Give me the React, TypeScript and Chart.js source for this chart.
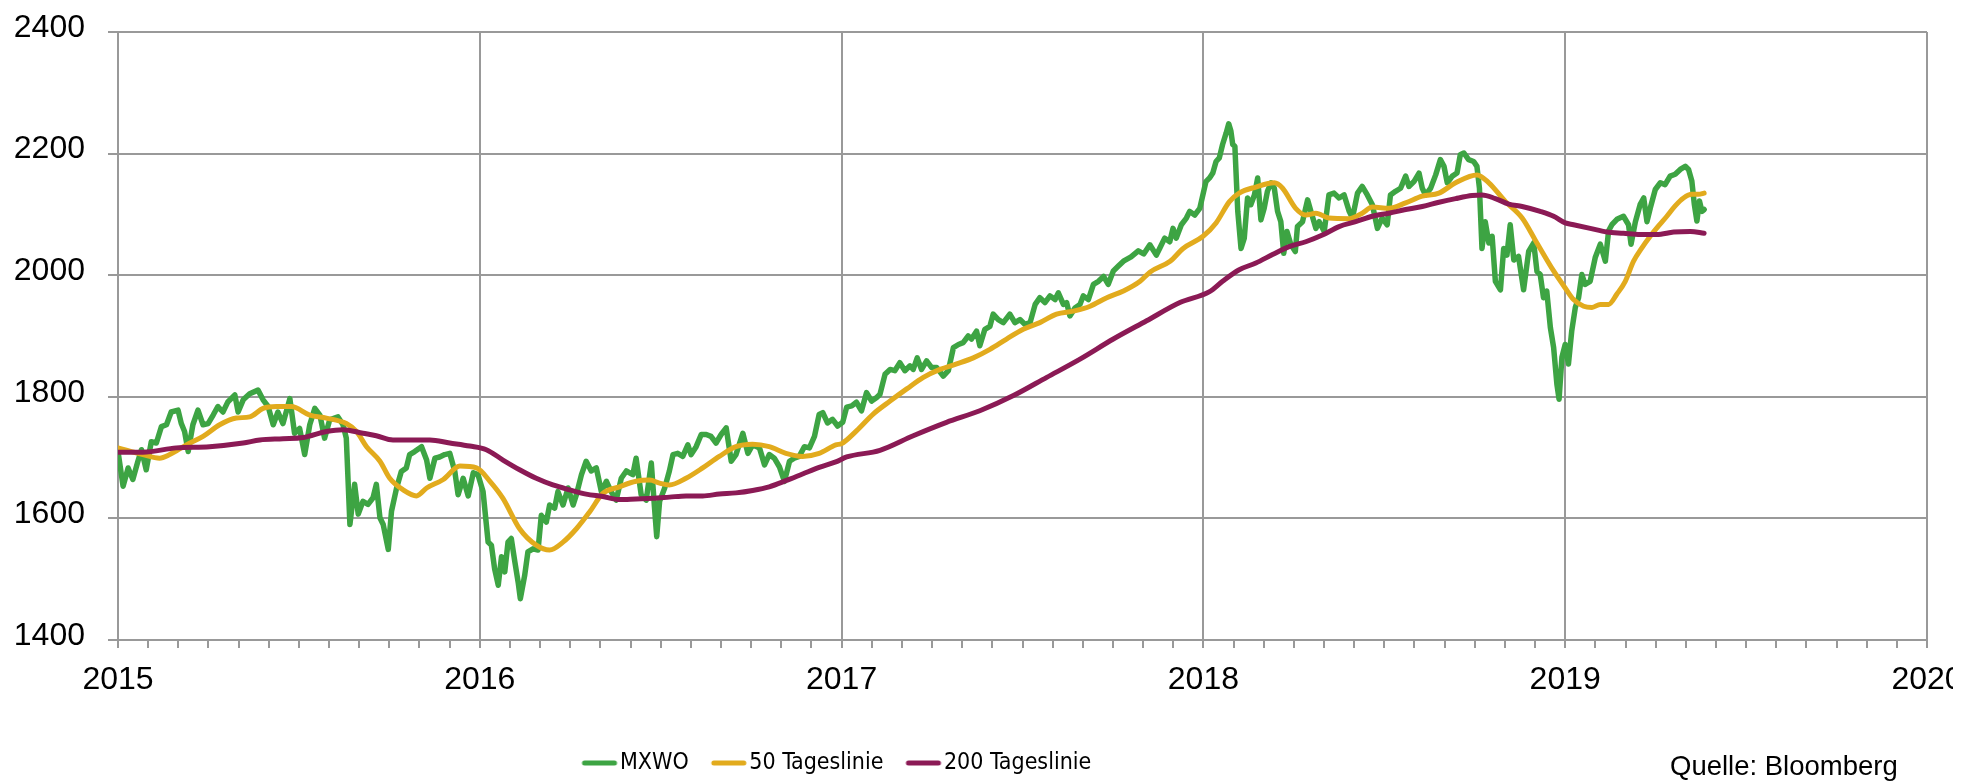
import React, { useEffect, useRef } from 'react';
import { Chart, registerables } from 'chart.js';

Chart.register(...registerables);

// ---- Data (decimal years / index values) ----
const mxwoDates = [
  2015.000, 2015.014, 2015.028, 2015.041, 2015.055, 2015.065, 2015.078, 2015.092, 2015.106, 2015.120,
  2015.134, 2015.147, 2015.166, 2015.175, 2015.184, 2015.194, 2015.207, 2015.221, 2015.235, 2015.249,
  2015.263, 2015.276, 2015.290, 2015.304, 2015.323, 2015.332, 2015.346, 2015.364, 2015.387, 2015.401,
  2015.415, 2015.429, 2015.442, 2015.456, 2015.475, 2015.488, 2015.502, 2015.516, 2015.530, 2015.544,
  2015.558, 2015.571, 2015.585, 2015.608, 2015.622, 2015.631, 2015.641, 2015.654, 2015.664, 2015.677,
  2015.691, 2015.705, 2015.714, 2015.724, 2015.733, 2015.747, 2015.756, 2015.770, 2015.783, 2015.797,
  2015.806, 2015.820, 2015.839, 2015.853, 2015.862, 2015.876, 2015.889, 2015.903, 2015.917, 2015.931,
  2015.940, 2015.954, 2015.968, 2015.982, 2015.995, 2016.009, 2016.023, 2016.032, 2016.041, 2016.051,
  2016.060, 2016.069, 2016.078, 2016.087, 2016.097, 2016.106, 2016.112, 2016.124, 2016.133, 2016.147,
  2016.161, 2016.170, 2016.184, 2016.193, 2016.207, 2016.216, 2016.230, 2016.244, 2016.258, 2016.267,
  2016.281, 2016.294, 2016.308, 2016.322, 2016.336, 2016.350, 2016.363, 2016.377, 2016.391, 2016.405,
  2016.423, 2016.432, 2016.446, 2016.460, 2016.474, 2016.483, 2016.489, 2016.497, 2016.511, 2016.524,
  2016.534, 2016.547, 2016.561, 2016.575, 2016.584, 2016.598, 2016.612, 2016.626, 2016.639, 2016.653,
  2016.667, 2016.681, 2016.695, 2016.708, 2016.727, 2016.741, 2016.754, 2016.773, 2016.787, 2016.800,
  2016.814, 2016.828, 2016.842, 2016.856, 2016.869, 2016.883, 2016.897, 2016.911, 2016.925, 2016.938,
  2016.948, 2016.961, 2016.975, 2016.989, 2017.003, 2017.014, 2017.028, 2017.041, 2017.055, 2017.069,
  2017.083, 2017.097, 2017.106, 2017.120, 2017.134, 2017.147, 2017.161, 2017.175, 2017.189, 2017.198,
  2017.209, 2017.221, 2017.235, 2017.249, 2017.263, 2017.281, 2017.295, 2017.309, 2017.323, 2017.336,
  2017.350, 2017.359, 2017.373, 2017.382, 2017.396, 2017.410, 2017.419, 2017.433, 2017.447, 2017.465,
  2017.479, 2017.493, 2017.507, 2017.521, 2017.535, 2017.548, 2017.562, 2017.576, 2017.590, 2017.599,
  2017.613, 2017.622, 2017.631, 2017.645, 2017.659, 2017.668, 2017.682, 2017.696, 2017.710, 2017.724,
  2017.737, 2017.751, 2017.765, 2017.779, 2017.800, 2017.820, 2017.835, 2017.852, 2017.870, 2017.879,
  2017.893, 2017.907, 2017.916, 2017.925, 2017.939, 2017.953, 2017.962, 2017.976, 2017.990, 2018.007,
  2018.017, 2018.026, 2018.035, 2018.044, 2018.053, 2018.063, 2018.070, 2018.076, 2018.081, 2018.087,
  2018.095, 2018.104, 2018.113, 2018.122, 2018.131, 2018.141, 2018.150, 2018.159, 2018.168, 2018.177,
  2018.187, 2018.196, 2018.205, 2018.214, 2018.222, 2018.231, 2018.242, 2018.254, 2018.260, 2018.274,
  2018.288, 2018.297, 2018.311, 2018.320, 2018.334, 2018.347, 2018.361, 2018.375, 2018.389, 2018.403,
  2018.412, 2018.426, 2018.439, 2018.453, 2018.467, 2018.481, 2018.494, 2018.508, 2018.517, 2018.531,
  2018.545, 2018.559, 2018.568, 2018.582, 2018.596, 2018.605, 2018.614, 2018.628, 2018.642, 2018.655,
  2018.665, 2018.674, 2018.688, 2018.701, 2018.710, 2018.720, 2018.733, 2018.747, 2018.756, 2018.763,
  2018.770, 2018.779, 2018.789, 2018.798, 2018.807, 2018.821, 2018.830, 2018.839, 2018.848, 2018.858,
  2018.871, 2018.885, 2018.899, 2018.913, 2018.922, 2018.931, 2018.940, 2018.949, 2018.959, 2018.968,
  2018.977, 2018.983, 2018.991, 2019.000, 2019.009, 2019.018, 2019.028, 2019.037, 2019.046, 2019.055,
  2019.069, 2019.083, 2019.097, 2019.111, 2019.120, 2019.129, 2019.143, 2019.161, 2019.175, 2019.182,
  2019.194, 2019.207, 2019.217, 2019.226, 2019.235, 2019.249, 2019.263, 2019.276, 2019.290, 2019.304,
  2019.318, 2019.332, 2019.341, 2019.350, 2019.357, 2019.364, 2019.371, 2019.378, 2019.384,
];
const mxwoValues = [
  1710, 1653, 1683, 1664, 1694, 1713, 1680, 1726, 1724, 1751,
  1754, 1775, 1778, 1756, 1743, 1710, 1754, 1778, 1754, 1756,
  1770, 1784, 1775, 1792, 1803, 1775, 1795, 1805, 1811, 1795,
  1784, 1754, 1775, 1756, 1797, 1740, 1748, 1705, 1754, 1781,
  1770, 1732, 1762, 1767, 1754, 1732, 1590, 1656, 1607, 1628,
  1623, 1634, 1656, 1601, 1590, 1549, 1612, 1650, 1677, 1683,
  1705, 1710, 1718, 1696, 1666, 1699, 1701, 1705, 1707, 1677,
  1639, 1666, 1637, 1675, 1672, 1644, 1561, 1556, 1517, 1490,
  1537, 1512, 1561, 1567, 1528, 1495, 1468, 1506, 1545, 1550,
  1548, 1605, 1594, 1622, 1617, 1644, 1622, 1650, 1622, 1639,
  1672, 1694, 1678, 1683, 1644, 1661, 1644, 1630, 1666, 1678,
  1672, 1699, 1639, 1630, 1691, 1617, 1570, 1628, 1650, 1678,
  1705, 1707, 1702, 1721, 1705, 1718, 1738, 1738, 1735, 1724,
  1738, 1749, 1694, 1705, 1740, 1707, 1721, 1716, 1688, 1705,
  1699, 1685, 1661, 1694, 1699, 1702, 1718, 1716, 1735, 1771,
  1774, 1757, 1763, 1752, 1758, 1783, 1785, 1791, 1777, 1807,
  1793, 1799, 1804, 1837, 1845, 1843, 1856, 1843, 1851, 1845,
  1864, 1845, 1859, 1848, 1848, 1834, 1843, 1881, 1886, 1889,
  1900, 1895, 1908, 1884, 1911, 1916, 1936, 1927, 1922, 1936,
  1922, 1927, 1919, 1922, 1952, 1963, 1955, 1966, 1960, 1971,
  1952, 1955, 1933, 1946, 1952, 1966, 1960, 1985, 1990, 1998,
  1985, 2007, 2015, 2023, 2030, 2040, 2035, 2050, 2033, 2044,
  2061, 2055, 2077, 2061, 2083, 2094, 2105, 2099, 2110, 2154,
  2160, 2168, 2187, 2193, 2215, 2234, 2249, 2237, 2215, 2212,
  2105, 2044, 2061, 2127, 2116, 2132, 2160, 2091, 2110, 2138,
  2152, 2143, 2105, 2088, 2036, 2072, 2050, 2039, 2080, 2088,
  2124, 2105, 2077, 2088, 2072, 2132, 2135, 2127, 2132, 2105,
  2094, 2135, 2146, 2132, 2116, 2077, 2094, 2083, 2132, 2138,
  2143, 2163, 2146, 2154, 2168, 2143, 2132, 2143, 2165, 2190,
  2179, 2152, 2163, 2168, 2198, 2201, 2190, 2187, 2179, 2143,
  2044, 2088, 2053, 2064, 1990, 1976, 2044, 2033, 2083, 2025,
  2031, 1976, 2039, 2053, 2006, 2001, 1963, 1974, 1914, 1881,
  1821, 1796, 1865, 1886, 1854, 1908, 1947, 1963, 2001, 1985,
  1990, 2029, 2051, 2023, 2073, 2083, 2092, 2097, 2083, 2051,
  2088, 2116, 2127, 2088, 2110, 2141, 2152, 2149, 2163, 2166,
  2174, 2179, 2174, 2155, 2116, 2089, 2122, 2105, 2108,
];

const ma50Dates = [
  2015.000, 2015.069, 2015.115, 2015.143, 2015.189, 2015.235, 2015.281, 2015.327, 2015.364, 2015.401,
  2015.438, 2015.479, 2015.530, 2015.576, 2015.631, 2015.659, 2015.687, 2015.724, 2015.751, 2015.788,
  2015.825, 2015.853, 2015.899, 2015.945, 2015.991, 2016.028, 2016.064, 2016.110, 2016.156, 2016.193,
  2016.230, 2016.267, 2016.304, 2016.340, 2016.386, 2016.432, 2016.469, 2016.497, 2016.524, 2016.570,
  2016.616, 2016.662, 2016.708, 2016.754, 2016.800, 2016.846, 2016.892, 2016.938, 2016.984, 2017.000,
  2017.041, 2017.088, 2017.134, 2017.180, 2017.226, 2017.272, 2017.318, 2017.364, 2017.410, 2017.456,
  2017.502, 2017.548, 2017.594, 2017.641, 2017.687, 2017.733, 2017.779, 2017.825, 2017.852, 2017.908,
  2017.944, 2017.999, 2018.035, 2018.072, 2018.099, 2018.145, 2018.196, 2018.219, 2018.255, 2018.283,
  2018.311, 2018.347, 2018.403, 2018.439, 2018.467, 2018.513, 2018.559, 2018.605, 2018.651, 2018.697,
  2018.756, 2018.789, 2018.835, 2018.881, 2018.917, 2018.968, 2019.000, 2019.023, 2019.051, 2019.074,
  2019.097, 2019.120, 2019.143, 2019.166, 2019.189, 2019.212, 2019.235, 2019.258, 2019.281, 2019.304,
  2019.327, 2019.350, 2019.369, 2019.384,
];
const ma50Values = [
  1716, 1705, 1699, 1705, 1721, 1735, 1754, 1765, 1767, 1781,
  1784, 1784, 1770, 1765, 1756, 1743, 1718, 1694, 1666, 1647,
  1637, 1650, 1664, 1686, 1683, 1661, 1633, 1583, 1556, 1548,
  1561, 1583, 1611, 1641, 1652, 1661, 1663, 1658, 1655, 1666,
  1683, 1702, 1718, 1722, 1718, 1707, 1702, 1707, 1721, 1723,
  1744, 1772, 1793, 1813, 1832, 1845, 1854, 1864, 1878, 1895,
  1911, 1922, 1936, 1941, 1949, 1963, 1974, 1990, 2005, 2023,
  2044, 2064, 2086, 2121, 2135, 2145, 2152, 2143, 2110, 2099,
  2102, 2094, 2093, 2102, 2112, 2110, 2119, 2130, 2135, 2152,
  2165, 2152, 2121, 2094, 2058, 2007, 1979, 1960, 1949, 1947,
  1952, 1952, 1969, 1990, 2023, 2045, 2064, 2081, 2097, 2114,
  2127, 2133, 2133, 2135,
];

const ma200Dates = [
  2015.000, 2015.069, 2015.161, 2015.253, 2015.346, 2015.392, 2015.456, 2015.512, 2015.576, 2015.622,
  2015.677, 2015.714, 2015.760, 2015.806, 2015.862, 2015.917, 2015.972, 2016.018, 2016.064, 2016.110,
  2016.156, 2016.202, 2016.248, 2016.294, 2016.340, 2016.386, 2016.432, 2016.478, 2016.524, 2016.570,
  2016.616, 2016.662, 2016.708, 2016.754, 2016.800, 2016.846, 2016.892, 2016.938, 2016.984, 2017.014,
  2017.106, 2017.198, 2017.290, 2017.382, 2017.475, 2017.567, 2017.659, 2017.751, 2017.843, 2017.935,
  2018.017, 2018.053, 2018.099, 2018.145, 2018.191, 2018.237, 2018.283, 2018.329, 2018.375, 2018.421,
  2018.467, 2018.513, 2018.559, 2018.605, 2018.651, 2018.697, 2018.743, 2018.770, 2018.807, 2018.844,
  2018.881, 2018.931, 2018.968, 2019.000, 2019.023, 2019.069, 2019.115, 2019.161, 2019.207, 2019.253,
  2019.300, 2019.346, 2019.384,
];
const ma200Values = [
  1709, 1709, 1716, 1718, 1724, 1729, 1731, 1733, 1743, 1746,
  1740, 1736, 1729, 1729, 1729, 1724, 1719, 1713, 1696, 1680,
  1666, 1655, 1647, 1640, 1636, 1631, 1632, 1633, 1635, 1637,
  1637, 1640, 1642, 1646, 1652, 1662, 1673, 1684, 1693, 1701,
  1712, 1736, 1758, 1777, 1802, 1832, 1862, 1895, 1925, 1955,
  1973, 1990, 2009, 2020, 2034, 2047, 2055, 2066, 2080, 2088,
  2097, 2102, 2108, 2113, 2120, 2126, 2131, 2132, 2126, 2117,
  2113, 2105, 2097, 2086, 2083, 2077, 2071, 2069, 2067, 2067,
  2071, 2072, 2069,
];

const seriesLabels = ['MXWO', '50 Tageslinie', '200 Tageslinie'];
const seriesColors = ['#3DA443', '#E2AB1D', '#8B1A55'];
const yearTicks = [2015, 2016, 2017, 2018, 2019, 2020];
const yRange = { min: 1400, max: 2400, step: 200 };
const sourceText = 'Quelle: Bloomberg';

const GRID = '#999999';
const TICK_FONT = "'Liberation Sans', Arial, sans-serif";
const LEGEND_FONT = "'Liberation Sans Narrow', 'DejaVu Sans Condensed', 'Liberation Sans', sans-serif";
const LEGEND_SIZE = 23;
const LEGEND_PAD = 25;

const isYear = (v: number) => Math.abs(v - Math.round(v)) < 1e-6;

function makeSwatch(color: string): HTMLCanvasElement {
  const c = document.createElement('canvas');
  c.width = 44;
  c.height = 8;
  const g = c.getContext('2d')!;
  g.strokeStyle = color;
  g.lineWidth = 5;
  g.lineCap = 'round';
  g.beginPath();
  g.moveTo(10, 4);
  g.lineTo(40, 4);
  g.stroke();
  return c;
}

const legendPlacer = {
  id: 'legendPlacer',
  afterLayout(chart: any) {
    const lg = chart.legend;
    if (!lg) return;
    const h = lg.height;
    lg.left = 559.5;
    lg.top = 763 - LEGEND_PAD - LEGEND_SIZE / 2;
    lg.bottom = lg.top + h;
  },
};

export default function App() {
  const canvasRef = useRef<HTMLCanvasElement | null>(null);

  useEffect(() => {
    const canvas = canvasRef.current;
    if (!canvas) return;

    const monthTicks: number[] = [];
    for (let i = 0; i < yearTicks.length - 1; i++) {
      for (let m = 0; m < 12; m++) monthTicks.push(yearTicks[i] + m / 12);
    }
    monthTicks.push(yearTicks[yearTicks.length - 1]);

    const swatches = seriesColors.map(makeSwatch);

    const toPoints = (xs: number[], ys: number[]) => xs.map((x, i) => ({ x, y: ys[i] }));

    const chart = new Chart(canvas, {
      type: 'line',
      data: {
        datasets: [
          {
            label: seriesLabels[0],
            data: toPoints(mxwoDates, mxwoValues),
            borderColor: seriesColors[0],
            backgroundColor: seriesColors[0],
            borderWidth: 5.5,
            pointRadius: 0,
            tension: 0,
            borderJoinStyle: 'round',
            borderCapStyle: 'round',
            order: 3,
          },
          {
            label: seriesLabels[1],
            data: toPoints(ma50Dates, ma50Values),
            borderColor: seriesColors[1],
            backgroundColor: seriesColors[1],
            borderWidth: 5,
            pointRadius: 0,
            cubicInterpolationMode: 'monotone',
            borderJoinStyle: 'round',
            borderCapStyle: 'round',
            order: 2,
          },
          {
            label: seriesLabels[2],
            data: toPoints(ma200Dates, ma200Values),
            borderColor: seriesColors[2],
            backgroundColor: seriesColors[2],
            borderWidth: 5,
            pointRadius: 0,
            cubicInterpolationMode: 'monotone',
            borderJoinStyle: 'round',
            borderCapStyle: 'round',
            order: 1,
          },
        ],
      } as any,
      options: {
        responsive: false,
        animation: false,
        events: [],
        layout: { padding: { left: 8, right: 43, top: 32, bottom: 0 } },
        scales: {
          x: {
            type: 'linear',
            min: yearTicks[0],
            max: yearTicks[yearTicks.length - 1],
            afterBuildTicks: (axis: any) => {
              axis.ticks = monthTicks.map((v) => ({ value: v }));
            },
            afterFit: (axis: any) => {
              const lgH = axis.chart.legend ? axis.chart.legend.height : 58;
              axis.height = 783 - lgH - 640;
              axis.paddingLeft = 0;
              axis.paddingRight = 0;
            },
            grid: {
              color: (c: any) => (c.tick && isYear(c.tick.value) ? GRID : 'rgba(0,0,0,0)'),
              tickColor: GRID,
              lineWidth: 2,
              tickWidth: 2,
              tickLength: 8,
            },
            border: { color: GRID, width: 2 },
            ticks: {
              autoSkip: false,
              maxRotation: 0,
              minRotation: 0,
              padding: 13,
              color: '#000',
              font: { family: TICK_FONT, size: 32 },
              callback: (v: any) => (isYear(Number(v)) ? String(Math.round(Number(v))) : ''),
            },
          },
          y: {
            type: 'linear',
            min: yRange.min,
            max: yRange.max,
            afterFit: (axis: any) => {
              axis.width = 110;
              axis.paddingTop = 0;
              axis.paddingBottom = 0;
            },
            grid: {
              color: GRID,
              tickColor: GRID,
              lineWidth: 2,
              tickWidth: 2,
              tickLength: 10,
            },
            border: { color: GRID, width: 2 },
            ticks: {
              stepSize: yRange.step,
              padding: 23,
              labelOffset: -4,
              color: '#000',
              font: { family: TICK_FONT, size: 32 },
              callback: (v: any) => String(v),
            },
          },
        },
        plugins: {
          tooltip: { enabled: false },
          legend: {
            position: 'bottom',
            align: 'start',
            labels: {
              usePointStyle: true,
              pointStyleWidth: 24,
              padding: LEGEND_PAD,
              color: '#000',
              font: { family: LEGEND_FONT, size: LEGEND_SIZE },
              generateLabels: (ch: any) =>
                ch.data.datasets.map((ds: any, i: number) => ({
                  text: ds.label,
                  fillStyle: ds.borderColor,
                  strokeStyle: ds.borderColor,
                  lineWidth: 0,
                  pointStyle: swatches[i],
                  hidden: false,
                  datasetIndex: i,
                  fontColor: '#000',
                })),
            },
          },
        },
      } as any,
      plugins: [legendPlacer],
    });

    return () => chart.destroy();
  }, []);

  return (
    <div
      style={{
        position: 'absolute',
        left: 0,
        top: 0,
        width: 1953,
        height: 783,
        overflow: 'hidden',
        background: '#fff',
      }}
    >
      <canvas ref={canvasRef} width={1970} height={783} style={{ display: 'block', width: 1970, height: 783 }} />
      <div
        style={{
          position: 'absolute',
          left: 1670,
          top: 751.5,
          fontFamily: TICK_FONT,
          fontSize: '27.5px',
          lineHeight: '28px',
          color: '#000',
          whiteSpace: 'nowrap',
        }}
      >
        {sourceText}
      </div>
    </div>
  );
}
